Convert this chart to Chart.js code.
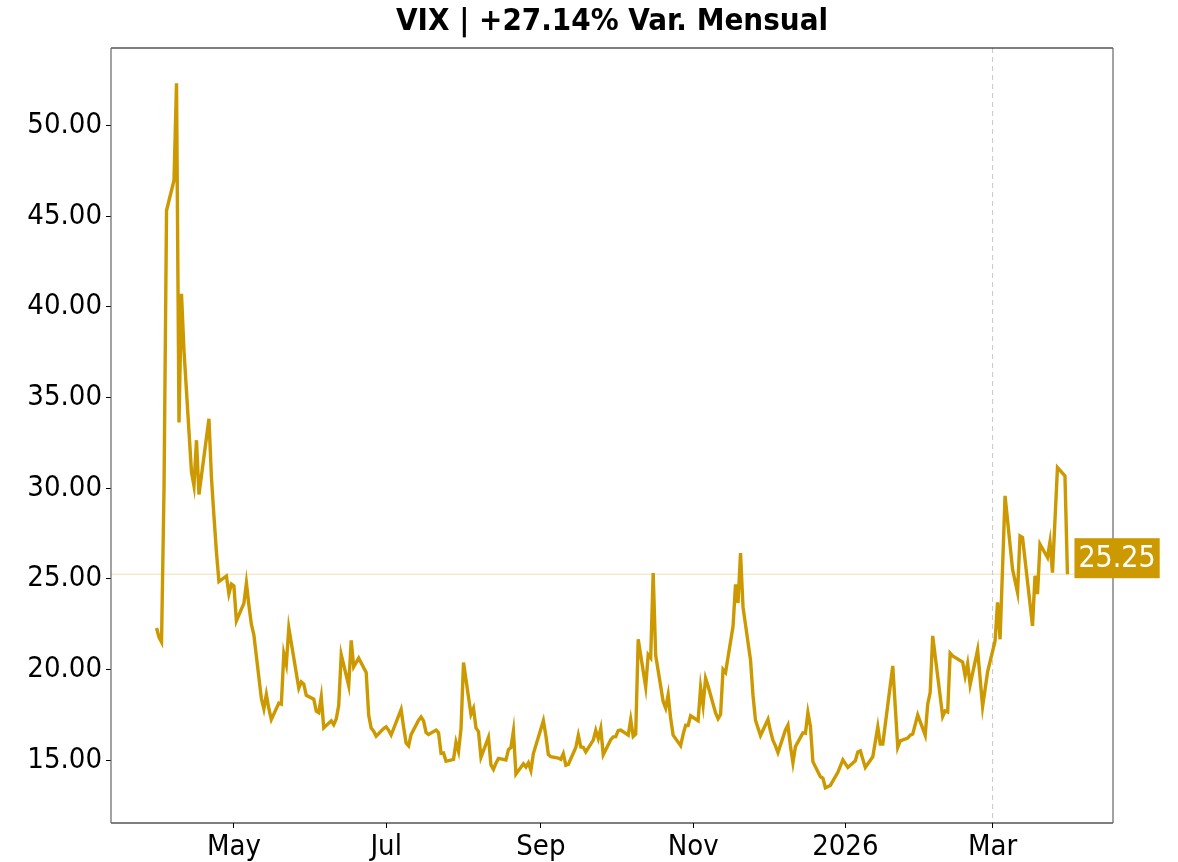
<!DOCTYPE html>
<html>
<head>
<meta charset="utf-8">
<script src="https://cdn.jsdelivr.net/npm/chart.js@4"></script>
<style>
  html, body { margin: 0; padding: 0; background: #fff; }
  #caja { width: 1178px; height: 862px; }
</style>
</head>
<body>
<div id="caja"><canvas id="grafico"></canvas></div>
<script>
// Fechas de cierre (días hábiles)
const fechas = [
  "2025-03-31","2025-04-01","2025-04-02","2025-04-03","2025-04-04","2025-04-07","2025-04-08","2025-04-09","2025-04-10","2025-04-11",
  "2025-04-14","2025-04-15","2025-04-16","2025-04-17","2025-04-21","2025-04-22","2025-04-23","2025-04-24","2025-04-25","2025-04-28",
  "2025-04-29","2025-04-30","2025-05-01","2025-05-02","2025-05-05","2025-05-06","2025-05-07","2025-05-08","2025-05-09","2025-05-12",
  "2025-05-13","2025-05-14","2025-05-15","2025-05-16","2025-05-19","2025-05-20","2025-05-21","2025-05-22","2025-05-23","2025-05-27",
  "2025-05-28","2025-05-29","2025-05-30","2025-06-02","2025-06-03","2025-06-04","2025-06-05","2025-06-06","2025-06-09","2025-06-10",
  "2025-06-11","2025-06-12","2025-06-13","2025-06-16","2025-06-17","2025-06-18","2025-06-20","2025-06-23","2025-06-24","2025-06-25",
  "2025-06-26","2025-06-27","2025-06-30","2025-07-01","2025-07-02","2025-07-03","2025-07-07","2025-07-08","2025-07-09","2025-07-10",
  "2025-07-11","2025-07-14","2025-07-15","2025-07-16","2025-07-17","2025-07-18","2025-07-21","2025-07-22","2025-07-23","2025-07-24",
  "2025-07-25","2025-07-28","2025-07-29","2025-07-30","2025-07-31","2025-08-01","2025-08-04","2025-08-05","2025-08-06","2025-08-07",
  "2025-08-08","2025-08-11","2025-08-12","2025-08-13","2025-08-14","2025-08-15","2025-08-18","2025-08-19","2025-08-20","2025-08-21",
  "2025-08-22","2025-08-25","2025-08-26","2025-08-27","2025-08-28","2025-08-29","2025-09-02","2025-09-03","2025-09-04","2025-09-05",
  "2025-09-08","2025-09-09","2025-09-10","2025-09-11","2025-09-12","2025-09-15","2025-09-16","2025-09-17","2025-09-18","2025-09-19",
  "2025-09-22","2025-09-23","2025-09-24","2025-09-25","2025-09-26","2025-09-29","2025-09-30","2025-10-01","2025-10-02","2025-10-03",
  "2025-10-06","2025-10-07","2025-10-08","2025-10-09","2025-10-10","2025-10-13","2025-10-14","2025-10-15","2025-10-16","2025-10-17",
  "2025-10-20","2025-10-21","2025-10-22","2025-10-23","2025-10-24","2025-10-27","2025-10-28","2025-10-29","2025-10-30","2025-10-31",
  "2025-11-03","2025-11-04","2025-11-05","2025-11-06","2025-11-07","2025-11-10","2025-11-11","2025-11-12","2025-11-13","2025-11-14",
  "2025-11-17","2025-11-18","2025-11-19","2025-11-20","2025-11-21","2025-11-24","2025-11-25","2025-11-26","2025-11-28","2025-12-01",
  "2025-12-02","2025-12-03","2025-12-04","2025-12-05","2025-12-08","2025-12-09","2025-12-10","2025-12-11","2025-12-12","2025-12-15",
  "2025-12-16","2025-12-17","2025-12-18","2025-12-19","2025-12-22","2025-12-23","2025-12-24","2025-12-26","2025-12-29","2025-12-31",
  "2026-01-02","2026-01-05","2026-01-06","2026-01-07","2026-01-09","2026-01-12","2026-01-14","2026-01-15","2026-01-16","2026-01-20",
  "2026-01-22","2026-01-23","2026-01-26","2026-01-27","2026-01-28","2026-01-30","2026-02-02","2026-02-03","2026-02-04","2026-02-05",
  "2026-02-09","2026-02-10","2026-02-11","2026-02-12","2026-02-13","2026-02-17","2026-02-18","2026-02-19","2026-02-20","2026-02-23",
  "2026-02-25","2026-02-27","2026-03-02","2026-03-03","2026-03-04","2026-03-06","2026-03-09","2026-03-11","2026-03-12","2026-03-13",
  "2026-03-17","2026-03-18","2026-03-19","2026-03-20","2026-03-23","2026-03-24","2026-03-25","2026-03-27","2026-03-30","2026-03-31"
];

// Cierres del VIX
const valores = [
  22.28,21.77,21.51,30.02,45.31,46.98,52.33,33.62,40.72,37.56,
  30.89,30.12,32.64,29.65,33.82,30.57,28.45,26.47,24.84,25.15,
  24.17,24.70,24.60,22.68,23.64,24.76,23.55,22.48,21.90,18.39,
  17.82,18.62,17.83,17.24,18.14,18.09,20.87,20.28,22.29,18.96,
  19.31,19.18,18.57,18.36,17.69,17.61,18.48,16.77,17.16,16.95,
  17.26,18.02,20.82,19.11,21.60,20.14,20.62,19.83,17.48,16.76,
  16.59,16.32,16.73,16.83,16.64,16.38,17.79,16.81,15.94,15.78,
  16.40,17.20,17.38,17.16,16.52,16.41,16.65,16.50,15.37,15.39,
  14.93,15.03,15.98,15.48,16.72,20.38,17.52,17.85,16.77,16.57,
  15.15,16.25,14.73,14.49,14.83,15.09,15.00,15.57,15.69,16.60,
  14.22,14.79,14.62,14.85,14.43,15.36,17.17,16.35,15.30,15.18,
  15.11,15.04,15.35,14.71,14.76,15.69,16.36,15.72,15.70,15.45,
  16.10,16.64,16.18,16.74,15.29,16.12,16.28,16.29,16.63,16.65,
  16.37,17.24,16.30,16.43,21.66,19.03,20.81,20.64,25.31,20.78,
  18.23,17.87,18.60,17.30,16.37,15.79,16.42,16.92,16.91,17.44,
  17.17,19.00,18.01,19.50,19.08,17.60,17.28,17.51,20.00,19.83,
  22.38,24.69,23.66,26.42,23.43,20.52,18.56,17.19,16.35,17.24,
  16.59,16.08,15.78,15.41,16.66,16.93,15.77,14.85,15.74,16.50,
  16.48,17.62,16.87,14.91,14.08,14.00,13.47,13.60,14.32,15.01,
  14.59,14.96,15.45,15.51,14.59,15.18,16.83,15.88,15.88,20.19,
  15.70,16.06,16.21,16.37,16.43,17.49,16.37,18.08,18.73,21.85,
  17.40,17.71,17.65,20.89,20.74,20.41,19.64,20.32,19.15,21.08,
  17.95,19.86,21.57,23.69,21.66,29.57,25.52,24.24,27.36,27.27,
  22.40,25.16,24.15,26.90,26.17,27.03,25.34,31.13,30.67,25.25
];

// Etiquetas de los ejes
const ticksFechas = ["2025-05-01","2025-07-01","2025-09-01","2025-11-01","2026-01-01","2026-03-01"];
const ticksTextos = ["May","Jul","Sep","Nov","2026","Mar"];
const ticksY = [15, 20, 25, 30, 35, 40, 45, 50];
const inicioMes = "2026-03-01";
const titulo = "VIX | +27.14% Var. Mensual";

const dorado = "#CC9900";
const fuente = "'DejaVu Sans Condensed', 'DejaVu Sans', sans-serif";

const dia = s => Date.parse(s + "T00:00:00Z") / 86400000;

const xs = fechas.map(dia);
const spanX = xs[xs.length - 1] - xs[0];
const minY = Math.min(...valores), maxY = Math.max(...valores);
const spanY = maxY - minY;
const ultimo = valores[valores.length - 1];

// Título, líneas de referencia, marco y etiqueta del último valor
const extras = {
  id: "extras",
  beforeDatasetsDraw(chart) {
    const { ctx, chartArea: a, scales } = chart;
    ctx.save();
    const yU = scales.y.getPixelForValue(ultimo);
    ctx.strokeStyle = "rgba(204,153,0,0.3)";
    ctx.lineWidth = 1;
    ctx.beginPath();
    ctx.moveTo(a.left, yU);
    ctx.lineTo(a.right, yU);
    ctx.stroke();

    const xM = scales.x.getPixelForValue(dia(inicioMes));
    ctx.strokeStyle = "#c8c8c8";
    ctx.setLineDash([5, 4]);
    ctx.beginPath();
    ctx.moveTo(xM, a.top);
    ctx.lineTo(xM, a.bottom);
    ctx.stroke();
    ctx.restore();
  },
  afterDraw(chart) {
    const { ctx, chartArea: a, scales } = chart;
    ctx.save();
    ctx.fillStyle = "#000";
    ctx.font = "bold 31px " + fuente;
    ctx.textAlign = "center";
    ctx.textBaseline = "middle";
    ctx.fillText(titulo, (a.left + a.right) / 2, 22);

    ctx.lineWidth = 1.2;
    ctx.strokeStyle = "#000";
    ctx.beginPath();
    ctx.moveTo(a.left, a.top); ctx.lineTo(a.right, a.top);
    ctx.moveTo(a.left, a.bottom); ctx.lineTo(a.right, a.bottom);
    ctx.stroke();
    ctx.strokeStyle = "#666";
    ctx.beginPath();
    ctx.moveTo(a.left, a.top); ctx.lineTo(a.left, a.bottom);
    ctx.moveTo(a.right, a.top); ctx.lineTo(a.right, a.bottom);
    ctx.stroke();

    const xU = scales.x.getPixelForValue(xs[xs.length - 1]);
    const yU = scales.y.getPixelForValue(ultimo);
    const texto = ultimo.toFixed(2);
    ctx.font = "30px " + fuente;
    const w = ctx.measureText(texto).width + 8;
    ctx.fillStyle = dorado;
    ctx.fillRect(xU + 7, yU - 36, w, 40);
    ctx.fillStyle = "#fff";
    ctx.textAlign = "left";
    ctx.fillText(texto, xU + 11, yU - 15);
    ctx.restore();
  }
};

new Chart(document.getElementById("grafico").getContext("2d"), {
  type: "line",
  data: {
    datasets: [{
      data: xs.map((x, i) => ({ x: x, y: valores[i] })),
      borderColor: dorado,
      borderWidth: 3.4,
      pointRadius: 0,
      tension: 0,
      fill: false
    }]
  },
  options: {
    responsive: true,
    maintainAspectRatio: false,
    animation: false,
    layout: { padding: { left: 0, right: 65, top: 48, bottom: 0 } },
    plugins: {
      legend: { display: false },
      tooltip: { enabled: false },
      title: { display: false }
    },
    scales: {
      x: {
        type: "linear",
        min: xs[0] - 0.05 * spanX,
        max: xs[xs.length - 1] + 0.05 * spanX,
        afterBuildTicks: s => { s.ticks = ticksFechas.map(f => ({ value: dia(f) })); },
        afterFit: s => { s.height = 39; },
        border: { display: false },
        grid: { drawOnChartArea: false, drawTicks: true, tickLength: 5, tickColor: "#000" },
        ticks: {
          color: "#000",
          padding: 2,
          maxRotation: 0,
          autoSkip: false,
          font: { family: fuente, size: 29 },
          callback: (v, i) => ticksTextos[i]
        }
      },
      y: {
        min: minY - 0.05 * spanY,
        max: maxY + 0.05 * spanY,
        afterBuildTicks: s => { s.ticks = ticksY.map(v => ({ value: v })); },
        afterFit: s => { s.width = 111; },
        border: { display: false },
        grid: { drawOnChartArea: false, drawTicks: true, tickLength: 5, tickColor: "#000" },
        ticks: {
          color: "#000",
          padding: 4,
          font: { family: fuente, size: 29 },
          callback: v => v.toFixed(2)
        }
      }
    }
  },
  plugins: [extras]
});
</script>
</body>
</html>
